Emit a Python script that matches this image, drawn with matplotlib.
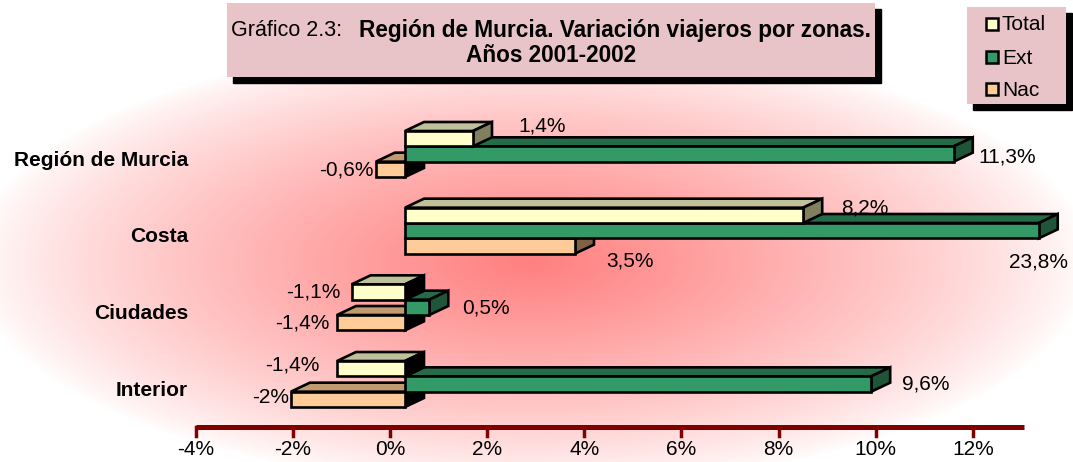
import numpy as np
import matplotlib.pyplot as plt
from matplotlib.patches import Polygon, Rectangle

plt.rcParams['font.family'] = ['Liberation Sans', 'DejaVu Sans']

# Data
categories = ["Región de Murcia", "Costa", "Ciudades", "Interior"]
series = ["Total", "Ext", "Nac"]
total = [1.4, 8.2, -1.1, -1.4]
ext = [11.3, 23.8, 0.5, 9.6]
nac = [-0.6, 3.5, -1.4, -2.35]
total_labels = ["1,4%", "8,2%", "-1,1%", "-1,4%"]
ext_labels = ["11,3%", "23,8%", "0,5%", "9,6%"]
nac_labels = ["-0,6%", "3,5%", "-1,4%", "-2%"]
xticks = [-4, -2, 0, 2, 4, 6, 8, 10, 12]

values = {"Total": total, "Ext": ext, "Nac": nac}
labels = {"Total": total_labels, "Ext": ext_labels, "Nac": nac_labels}

W, H = 1073, 462
fig = plt.figure(figsize=(W / 100, H / 100), dpi=100)

# radial red background
bg = fig.add_axes([0, 0, 1, 1], zorder=0)
yy, xx = np.mgrid[0:H, 0:W]
r = np.sqrt(((xx - 530) / 560.0) ** 2 + ((yy - 262) / 225.0) ** 2)
w = np.clip(1 - r, 0, 1) ** 0.8
img = np.ones((H, W, 3))
img[..., 1] -= 0.5 * w
img[..., 2] -= 0.5 * w
bg.imshow(img, extent=(0, W, H, 0), aspect='auto')
bg.axis('off')

# main axes (x in %, y in category index)
ax = fig.add_axes([0, 0, 1, 1], zorder=1)
ax.patch.set_alpha(0)
ax.axis('off')
PPX = (977 - 200) / 16.0   # pixels per 1%
PPY = 76.67                # pixels per category
ax.set_xlim(-390 / PPX, (W - 390) / PPX)
ax.set_ylim((H - 154) / PPY, -154 / PPY)

bar_h = 0.2
shift = 15 / PPX
dx, dy = 19 / PPX, -9 / PPY
xmax = 13.05

colors = {
    "Total": ("#ffffcc", "#c0c09a", "#80805e"),
    "Ext": ("#339966", "#246b48", "#1f5538"),
    "Nac": ("#ffcc99", "#c29a70", "#7f6244"),
}
offsets = {"Total": -bar_h, "Ext": 0.0, "Nac": bar_h}
edge = dict(edgecolor="black", linewidth=1.9, joinstyle="miter")


def draw_bar(c, v, key):
    face, top, side = colors[key]
    vv = min(v, xmax)
    x0 = shift + min(0, vv)
    x1 = shift + max(0, vv)
    y0 = c + offsets[key] - bar_h / 2
    y1 = y0 + bar_h
    ax.add_patch(Polygon([(x0, y0), (x1, y0), (x1 + dx, y0 + dy), (x0 + dx, y0 + dy)],
                         facecolor=top, **edge))
    ax.add_patch(Polygon([(x1, y0), (x1 + dx, y0 + dy), (x1 + dx, y1 + dy), (x1, y1)],
                         facecolor=side if v >= 0 else "black", **edge))
    ax.add_patch(Rectangle((x0, y0), x1 - x0, bar_h, facecolor=face, **edge))


for i in range(len(categories)):
    for key in ["Nac", "Ext", "Total"]:
        draw_bar(i, values[key][i], key)

# value labels (pixel nudges to follow the original placement)
nudges = {
    ("Total", 0): (14, -13), ("Total", 1): (7, -7), ("Nac", 1): (0, 15),
    ("Ext", 0): (-6, 3), ("Ext", 2): (2, 1),
    ("Nac", 0): (4, 1), ("Total", 2): (-5, 0), ("Nac", 2): (-2, 0),
    ("Total", 3): (-12, -4), ("Nac", 3): (4, -2),
}
for key in series:
    for i, v in enumerate(values[key]):
        ndx, ndy = nudges.get((key, i), (0, 0))
        yc = i + offsets[key] + ndy / PPY
        if v > xmax:
            ax.text((1068 - 390) / PPX, (262 - 154) / PPY, labels[key][i],
                    ha="right", va="center", fontsize=15)
        elif v >= 0:
            ax.text(shift + v + dx + (12 + ndx) / PPX, yc, labels[key][i],
                    ha="left", va="center", fontsize=15)
        else:
            ax.text(shift + v + (-6 + ndx) / PPX, yc, labels[key][i],
                    ha="right", va="center", fontsize=15)

# category labels
for i, cat in enumerate(categories):
    ax.text((188 - 390) / PPX, i + 0.08, cat, ha="right", va="center",
            fontsize=15, fontweight="bold")

# x axis
y_axis = (427 - 154) / PPY
ax.plot([-4, xmax], [y_axis, y_axis], color="#800000", lw=3.6, solid_capstyle="butt")
for t in xticks:
    ax.plot([t, t], [y_axis, y_axis + 9 / PPY], color="#800000", lw=2.5)
    ax.text(t, (450 - 154) / PPY, f"{t}%", ha="center", va="center", fontsize=15)

# title and legend boxes
deco = fig.add_axes([0, 0, 1, 1], zorder=2)
deco.patch.set_alpha(0)
deco.axis('off')
deco.set_xlim(0, W)
deco.set_ylim(H, 0)

deco.add_patch(Rectangle((233, 9), 648, 74, color="black"))
deco.add_patch(Rectangle((227, 3), 648, 74, facecolor="#e8c4c8", edgecolor="none"))
deco.text(231, 30, "Gráfico 2.3:", fontsize=15.5, ha="left", va="center")
deco.text(871, 30, "Región de Murcia. Variación viajeros por zonas.", fontsize=16.3,
          fontweight="bold", ha="right", va="center")
deco.text(551, 56, "Años 2001-2002", fontsize=16.3, fontweight="bold",
          ha="center", va="center")

deco.add_patch(Rectangle((973, 13), 99, 97, color="black"))
deco.add_patch(Rectangle((967, 7), 99, 97, facecolor="#e8c4c8", edgecolor="none"))
for key, ry in zip(series, [24, 57, 89]):
    deco.add_patch(Rectangle((985.5, ry - 6), 12, 12, facecolor=colors[key][0],
                             edgecolor="black", linewidth=1.8))
    deco.text(1002, ry + 1, key, fontsize=15, ha="left", va="center")

fig.savefig("out.png", dpi=100)
